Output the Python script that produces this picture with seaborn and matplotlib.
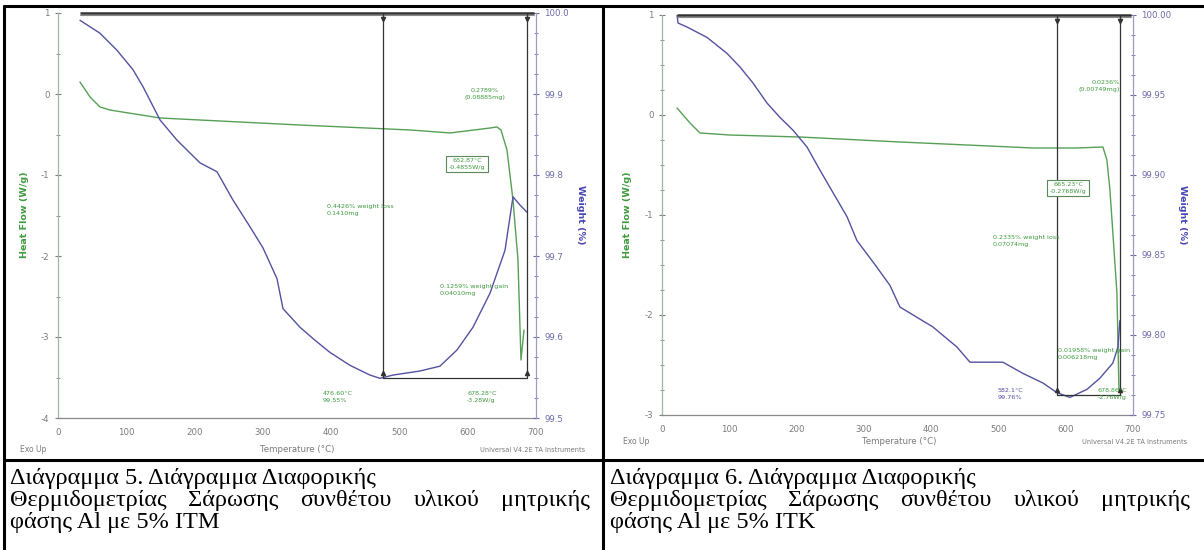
import matplotlib
matplotlib.use("Agg")
import numpy as np
import pandas as pd
import seaborn as sns
import matplotlib.pyplot as plt
from matplotlib.lines import Line2D
from matplotlib.ticker import MultipleLocator, FormatStrFormatter

sns.set_theme(style="white")
plt.rcParams['font.family'] = ['DejaVu Sans']
plt.rcParams['axes.unicode_minus'] = False

# ---------------- Data: Diagram 5 (Al + 5% ITM) ----------------
itm_w_temp = [32.2, 61.5, 86.4, 109.8, 124.5, 149.4, 174.3, 207.9, 232.8, 256.3, 281.2,
              300.2, 320.7, 329.5, 354.4, 376.3, 398.3, 427.6, 456.9, 471.5, 490.6, 530.0,
              559.4, 584.3, 607.7, 632.6, 654.6, 666.3, 676.5, 686.8]
itm_w_pct = [99.991, 99.975, 99.954, 99.930, 99.909, 99.868, 99.843, 99.815, 99.804, 99.769,
             99.736, 99.710, 99.672, 99.635, 99.612, 99.596, 99.581, 99.565, 99.553, 99.549,
             99.553, 99.558, 99.564, 99.584, 99.612, 99.654, 99.707, 99.773, 99.763, 99.754]
itm_hf_temp = [32.2, 46.9, 61.5, 76.1, 149.4, 207.9, 354.4, 515.4, 574.0, 632.6, 642.8,
               648.7, 657.5, 666.3, 673.6, 678.0, 682.4]
itm_hf_val = [0.148, -0.037, -0.160, -0.198, -0.296, -0.321, -0.383, -0.444, -0.481, -0.420,
              -0.407, -0.444, -0.691, -1.309, -2.049, -3.284, -2.914]
itm_step_temp = [476.6, 686.8]
itm_step_w = [100.0, 99.549]
itm_line_start = 32.2

# ---------------- Data: Diagram 6 (Al + 5% ITK) ----------------
itk_w_temp = [22.3, 23.8, 37.1, 66.9, 96.6, 115.9, 135.2, 156.0, 175.3, 194.7, 215.5, 234.8,
              254.1, 274.9, 289.7, 316.5, 338.8, 353.6, 402.7, 438.3, 457.7, 506.7, 536.4,
              566.1, 586.9, 606.2, 631.5, 650.8, 670.1, 677.6, 680.5]
itk_w_pct = [100.000, 99.995, 99.9925, 99.986, 99.976, 99.9675, 99.9575, 99.945, 99.936,
             99.928, 99.9175, 99.903, 99.889, 99.874, 99.859, 99.844, 99.831, 99.8175, 99.805,
             99.7925, 99.783, 99.783, 99.776, 99.770, 99.764, 99.761, 99.766, 99.773, 99.7825,
             99.7925, 99.809]
itk_hf_temp = [22.3, 41.6, 56.5, 101.0, 205.1, 353.6, 453.2, 551.3, 616.6, 655.3, 661.2,
               665.7, 670.1, 676.1, 677.6, 679.1]
itk_hf_val = [0.07, -0.08, -0.18, -0.20, -0.22, -0.27, -0.30, -0.33, -0.33, -0.32, -0.45,
              -0.75, -1.18, -1.78, -2.25, -2.75]
itk_step_temp = [586.9, 680.5]
itk_step_w = [100.0, 99.7625]
itk_line_start = 22.3

captions = [
    ["Διάγραμμα 5. Διάγραμμα Διαφορικής",
     "Θερμιδομετρίας Σάρωσης συνθέτου υλικού μητρικής",
     "φάσης Al με 5% ITM"],
    ["Διάγραμμα 6. Διάγραμμα Διαφορικής",
     "Θερμιδομετρίας Σάρωσης συνθέτου υλικού μητρικής",
     "φάσης Al με 5% ITK"],
]

W, H = 1204, 550
fig = plt.figure(figsize=(W / 100, H / 100), dpi=100)
fig.patch.set_facecolor("white")


def fx(px):
    return px / W


def fy(py):
    return 1 - py / H


GREEN = "#55a055"
BLUE = "#5252a0"
TXT_GREEN = "#3f9a3f"
TICK = "#7a7a7a"
BLUE_T = "#6a6aa8"


def make_chart(box, ylim, yticks_minor, wlim, wstep, wminor, wfmt,
               w_t, w_p, hf_t, hf_v, step_t, step_w, line_start,
               notes, label_x, ylab_px):
    ax = fig.add_axes(box)
    ax.set_facecolor("white")
    df_hf = pd.DataFrame({"T": hf_t, "HF": hf_v})
    sns.lineplot(data=df_hf, x="T", y="HF", ax=ax, color=GREEN, lw=1.0,
                 sort=False, estimator=None)
    ax.set_xlim(0, 700)
    ax.set_ylim(*ylim)
    ax.xaxis.set_major_locator(MultipleLocator(100))
    ax.xaxis.set_minor_locator(MultipleLocator(100 / 3))
    ax.yaxis.set_major_locator(MultipleLocator(1))
    ax.yaxis.set_minor_locator(MultipleLocator(yticks_minor))
    ax.set_xlabel("")
    ax.set_ylabel("")
    ax.spines["top"].set_visible(False)
    ax.spines["right"].set_visible(False)
    ax.spines["left"].set_color("#9fb89f")
    ax.spines["bottom"].set_color("#8a8a8a")
    for sp in ax.spines.values():
        sp.set_linewidth(0.9)
    ax.tick_params(axis="both", which="both", direction="inout", colors=TICK,
                   labelsize=6.2, labelcolor=TICK)
    ax.tick_params(which="major", length=5, width=0.8)
    ax.tick_params(which="minor", length=3, width=0.6)
    ax.tick_params(axis="x", pad=5)
    ax.grid(False)

    ax2 = ax.twinx()
    df_w = pd.DataFrame({"T": w_t, "W": w_p})
    sns.lineplot(data=df_w, x="T", y="W", ax=ax2, color=BLUE, lw=1.0,
                 sort=False, estimator=None)
    ax2.set_ylim(*wlim)
    ax2.yaxis.set_major_locator(MultipleLocator(wstep))
    ax2.yaxis.set_minor_locator(MultipleLocator(wminor))
    ax2.yaxis.set_major_formatter(FormatStrFormatter(wfmt))
    ax2.set_ylabel("")
    for s in ["top", "left", "bottom"]:
        ax2.spines[s].set_visible(False)
    ax2.spines["right"].set_color("#9a9ac4")
    ax2.spines["right"].set_linewidth(0.9)
    ax2.tick_params(axis="y", which="both", direction="inout", colors=BLUE_T,
                    labelsize=6.2, labelcolor=BLUE_T)
    ax2.tick_params(which="major", length=5, width=0.8)
    ax2.tick_params(which="minor", length=3, width=0.6)
    ax2.grid(False)

    span = wlim[1] - wlim[0]
    # step-transition annotation lines (black)
    ax2.plot([line_start, 697], [step_w[0], step_w[0]], color="#333333", lw=1.8,
             solid_capstyle="butt", clip_on=False)
    ax2.plot([line_start, 697], [step_w[0] - span * 0.006] * 2,
             color="#888888", lw=0.8, clip_on=False)
    for t in step_t:
        ax2.plot([t, t], [step_w[0], step_w[1]], color="#333333", lw=0.9)
        ax2.plot([t], [step_w[0] - span * 0.015], marker="v", color="#333333", ms=3)
        ax2.plot([t], [step_w[1] + span * 0.012], marker="^", color="#333333", ms=3)
    ax2.plot(step_t, [step_w[1], step_w[1]], color="#333333", lw=0.9)

    for (tx, ty, s, ha, boxed, col) in notes:
        kw = {}
        if boxed:
            kw["bbox"] = dict(boxstyle="square,pad=0.35", fc="white", ec="#5a8a5a", lw=0.8)
        fig.text(fx(tx), fy(ty), s, fontsize=4.6, color=col, ha=ha, va="center",
                 linespacing=1.3, **kw)

    lx0, lx1 = label_x
    fig.text(fx(lx0), fy(215), "Heat Flow (W/g)", rotation=90, color=TXT_GREEN,
             fontsize=6.8, fontweight="bold", ha="center", va="center")
    fig.text(fx(lx1), fy(215), "Weight (%)", rotation=270, color="#4646b4",
             fontsize=6.8, fontweight="bold", ha="center", va="center")
    ex, tx_c, un_r, yb = ylab_px
    fig.text(fx(ex), fy(yb), "Exo Up", fontsize=5.5, color=TICK, ha="left", va="center")
    fig.text(fx(tx_c), fy(yb), "Temperature (°C)", fontsize=6.2, color=TICK,
             ha="center", va="center")
    fig.text(fx(un_r), fy(yb), "Universal V4.2E TA Instruments", fontsize=4.8,
             color=TICK, ha="right", va="center")
    return ax, ax2


notes5 = [
    (485, 94, "0.2789%\n(0.08885mg)", "center", False, TXT_GREEN),
    (467, 164, "652.87°C\n-0.4855W/g", "center", True, TXT_GREEN),
    (327, 210, "0.4426% weight loss\n0.1410mg", "left", False, TXT_GREEN),
    (440, 290, "0.1259% weight gain\n0.04010mg", "left", False, TXT_GREEN),
    (323, 397, "476.60°C\n99.55%", "left", False, TXT_GREEN),
    (467, 397, "678.28°C\n-3.28W/g", "left", False, TXT_GREEN),
]
make_chart([fx(58), fy(418), (536 - 58) / W, (418 - 13) / H], (-4, 1), 0.5,
           (99.5, 100.0), 0.1, 0.025, "%.1f",
           itm_w_temp, itm_w_pct, itm_hf_temp, itm_hf_val, itm_step_temp, itm_step_w,
           itm_line_start, notes5, (25, 580), (20, 297, 585, 450))

notes6 = [
    (1120, 86, "0.0236%\n(0.00749mg)", "right", False, TXT_GREEN),
    (1068, 188, "665.23°C\n-0.2768W/g", "center", True, TXT_GREEN),
    (993, 241, "0.2335% weight loss\n0.07074mg", "left", False, TXT_GREEN),
    (1058, 354, "0.01958% weight gain\n0.006218mg", "left", False, TXT_GREEN),
    (998, 394, "582.1°C\n99.76%", "left", False, BLUE),
    (1098, 394, "678.86°C\n-2.76W/g", "left", False, TXT_GREEN),
]
make_chart([fx(662), fy(415), (1133 - 662) / W, (415 - 15) / H], (-3, 1), 0.25,
           (99.75, 100.0), 0.05, 0.0125, "%.2f",
           itk_w_temp, itk_w_pct, itk_hf_temp, itk_hf_val, itk_step_temp, itk_step_w,
           itk_line_start, notes6, (627, 1183), (623, 899, 1187, 442))

# table borders
for (x0, y0, x1, y1, lw) in [(4, 6, 1204, 6, 2.2), (4, 6, 4, 550, 2.2),
                             (603, 6, 603, 550, 2.2), (4, 460, 1204, 460, 2.2)]:
    fig.add_artist(Line2D([fx(x0), fx(x1)], [fy(y0), fy(y1)], color="black", lw=lw,
                          transform=fig.transFigure))

# captions (line 2 justified to the cell width, like the source document)
renderer = fig.canvas.get_renderer()
CAP_FONT = dict(fontsize=17.5, family=["Liberation Serif", "DejaVu Serif"], color="black")
baselines = [484, 506, 528]
for x0, x_right, lines in zip([10, 610], [590, 1190], captions):
    for i, (line, yb) in enumerate(zip(lines, baselines)):
        if i == 1:
            words = line.split(" ")
            texts = [fig.text(0, 0, w, ha="left", va="baseline", **CAP_FONT) for w in words]
            widths = [t.get_window_extent(renderer).width for t in texts]
            gap = (x_right - x0 - sum(widths)) / (len(words) - 1)
            xp = x0
            for t, wd in zip(texts, widths):
                t.set_position((fx(xp), fy(yb)))
                xp += wd + gap
        else:
            fig.text(fx(x0), fy(yb), line, ha="left", va="baseline", **CAP_FONT)

fig.savefig("out.png", dpi=100, facecolor="white")
